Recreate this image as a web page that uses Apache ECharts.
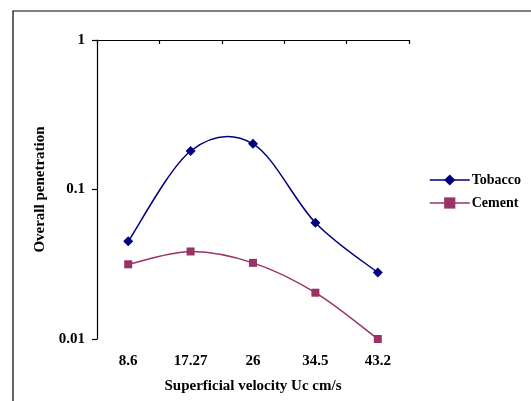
<!DOCTYPE html>
<html>
<head>
<meta charset="utf-8">
<script src="https://cdn.jsdelivr.net/npm/echarts@6/dist/echarts.min.js"></script>
<style>
    html, body { margin: 0; padding: 0; background: #fff; }
    #container { width: 531px; height: 401px; }
</style>
</head>
<body>
<div id="container"></div>
<script type="text/javascript">
    var categories = ['8.6', '17.27', '26', '34.5', '43.2'];
    var tobacco = [0.045, 0.181, 0.202, 0.060, 0.0278];
    var cement = [0.0316, 0.0385, 0.0323, 0.0204, 0.0100];
    var yTicks = [0.01, 0.1, 1];

    var font = '"Liberation Serif", "Times New Roman", serif';
    var navy = '#000080';
    var plum = '#993366';
    var dom = document.getElementById('container');
    var myChart = echarts.init(dom);

    // Excel-style smoothed curve: one bezier segment per point, control points from neighbours
    function curveSeries(name, values, color) {
        return {
            name: name,
            type: 'custom',
            xAxisIndex: 0,
            silent: true,
            z: 1,
            data: values.slice(0, values.length - 1).map(function (v, i) { return [i, v]; }),
            renderItem: function (params, api) {
                var i = params.dataIndex;
                var n = values.length;
                var p = function (k) {
                    k = Math.max(0, Math.min(n - 1, k));
                    return api.coord([k, values[k]]);
                };
                var p0 = p(i - 1), p1 = p(i), p2 = p(i + 1), p3 = p(i + 2);
                return {
                    type: 'bezierCurve',
                    shape: {
                        x1: p1[0], y1: p1[1],
                        cpx1: p1[0] + (p2[0] - p0[0]) / 6, cpy1: p1[1] + (p2[1] - p0[1]) / 6,
                        cpx2: p2[0] - (p3[0] - p1[0]) / 6, cpy2: p2[1] - (p3[1] - p1[1]) / 6,
                        x2: p2[0], y2: p2[1]
                    },
                    style: { stroke: color, lineWidth: 1.5, fill: 'none' }
                };
            }
        };
    }

    var option = {
        animation: false,
        backgroundColor: '#fff',
        textStyle: { fontFamily: font, color: '#000' },
        graphic: [{
            type: 'rect',
            shape: { x: 13, y: 11, width: 560, height: 420 },
            style: { fill: 'none', stroke: '#000', lineWidth: 1.2 },
            silent: true
        }],
        grid: { left: 97, top: 40, right: 122, bottom: 62, containLabel: false },
        legend: {
            orient: 'vertical',
            left: 424,
            top: 168,
            itemWidth: 40,
            itemHeight: 14,
            itemGap: 9,
            textStyle: { fontFamily: font, fontWeight: 'bold', fontSize: 14, color: '#000', padding: [0, 0, 0, -3] },
            data: [
                { name: 'Tobacco', lineStyle: { color: navy, width: 1.5, opacity: 1 } },
                { name: 'Cement', lineStyle: { color: plum, width: 1.5, opacity: 1 } }
            ]
        },
        xAxis: [{
            type: 'category',
            position: 'top',
            data: categories,
            axisLine: { show: true, lineStyle: { color: '#000', width: 1.2 } },
            axisTick: { show: true, inside: true, length: 4, lineStyle: { color: '#000', width: 1.2 } },
            axisLabel: { show: false },
            splitLine: { show: false }
        }, {
            type: 'category',
            position: 'bottom',
            data: categories,
            axisLine: { show: false },
            axisTick: { show: false },
            axisLabel: { show: true, margin: 15, fontFamily: font, fontWeight: 'bold', fontSize: 15, color: '#000' },
            name: 'Superficial velocity Uc cm/s',
            nameLocation: 'middle',
            nameGap: 40,
            nameTextStyle: { fontFamily: font, fontWeight: 'bold', fontSize: 15, color: '#000' }
        }],
        yAxis: {
            type: 'log',
            logBase: 10,
            min: yTicks[0],
            max: yTicks[yTicks.length - 1],
            axisLine: { show: true, lineStyle: { color: '#000', width: 1.2 } },
            axisTick: { show: true, length: 5, lineStyle: { color: '#000', width: 1.2 } },
            axisLabel: {
                margin: 12,
                fontFamily: font, fontWeight: 'bold', fontSize: 15, color: '#000',
                formatter: function (v) { return String(+v.toPrecision(3)); }
            },
            splitLine: { show: false },
            name: 'Overall penetration',
            nameLocation: 'middle',
            nameGap: 49,
            nameTextStyle: { fontFamily: font, fontWeight: 'bold', fontSize: 15, color: '#000' }
        },
        series: [{
            name: 'Tobacco',
            type: 'line',
            data: tobacco,
            color: navy,
            symbol: 'diamond',
            symbolSize: 10,
            z: 3,
            lineStyle: { width: 1.5, color: navy, opacity: 0 },
            itemStyle: { color: navy }
        }, {
            name: 'Cement',
            type: 'line',
            data: cement,
            color: plum,
            symbol: 'rect',
            symbolSize: 8,
            z: 3,
            lineStyle: { width: 1.5, color: plum, opacity: 0 },
            itemStyle: { color: plum }
        },
        curveSeries('Tobacco', tobacco, navy),
        curveSeries('Cement', cement, plum)]
    };
    myChart.setOption(option);
</script>
</body>
</html>
